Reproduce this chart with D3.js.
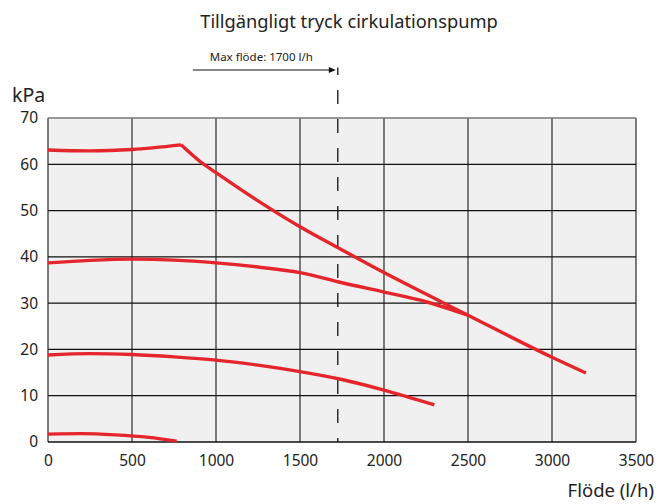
<!DOCTYPE html>
<html>
<head>
<meta charset="utf-8">
<script src="https://cdn.jsdelivr.net/npm/d3@7"></script>
<style>
  html, body { margin: 0; padding: 0; background: #fff; }
  svg { display: block; font-family: "Noto Sans", "Open Sans", sans-serif; }
</style>
</head>
<body>
<div id="chart"></div>
<script>
// ---- Data ----
const title = "Tillgängligt tryck cirkulationspump";
const yLabel = "kPa";
const xLabel = "Flöde (l/h)";
const maxFlowLabel = "Max flöde: 1700 l/h";
const maxFlowMarker = 1725;   // position of dashed line as drawn
const arrowStart = 862;

const xTicks = [0, 500, 1000, 1500, 2000, 2500, 3000, 3500];
const yTicks = [0, 10, 20, 30, 40, 50, 60, 70];

const curve1a = [[0, 63.1], [250, 62.9], [500, 63.2], [792, 64.2]];
const curve1b = [[792, 64.2], [905, 60.6], [1000, 58.2], [1250, 52.1], [1500, 46.5],
                 [1750, 41.5], [2000, 36.6], [2500, 27.4], [3000, 18.3], [3202, 14.9]];
const curve2 = [[0, 38.7], [250, 39.25], [500, 39.5], [750, 39.3], [1000, 38.7],
                [1250, 37.8], [1500, 36.6], [1750, 34.4], [2000, 32.4], [2250, 30.3], [2500, 27.4]];
const curve3 = [[0, 18.8], [250, 19.1], [500, 18.9], [750, 18.4], [1000, 17.7],
                [1250, 16.6], [1500, 15.2], [1750, 13.5], [2000, 11.2], [2300, 8.0]];
const curve4 = [[0, 1.7], [200, 1.8], [400, 1.55], [600, 1.0], [766, 0.2]];
const series = [curve1a, curve1b, curve2, curve3, curve4];

// ---- Layout ----
const W = 658, H = 504;
const m = { top: 118, right: 22, bottom: 62, left: 48 };
const iw = W - m.left - m.right, ih = H - m.top - m.bottom;

const svg = d3.select("#chart").append("svg").attr("width", W).attr("height", H);

const x = d3.scaleLinear().domain([0, 3500]).range([m.left, m.left + iw]);
const y = d3.scaleLinear().domain([0, 70]).range([m.top + ih, m.top]);

// background
svg.append("rect").attr("x", m.left).attr("y", m.top).attr("width", iw).attr("height", ih)
  .attr("fill", "#f0f0f0");

// vertical grid
svg.append("g").selectAll("line").data(xTicks).join("line")
  .attr("x1", d => x(d)).attr("x2", d => x(d))
  .attr("y1", m.top).attr("y2", m.top + ih)
  .attr("stroke", "#3a3a3a").attr("stroke-width", 1.3);

// horizontal grid
svg.append("g").selectAll("line").data(yTicks).join("line")
  .attr("x1", m.left).attr("x2", m.left + iw)
  .attr("y1", d => y(d)).attr("y2", d => y(d))
  .attr("stroke", d => d === 70 ? "#777" : "#111").attr("stroke-width", 1.3);

// axes labels via d3 axes (no domain/ticks lines)
const xAxis = svg.append("g").attr("transform", `translate(0,${m.top + ih})`)
  .call(d3.axisBottom(x).tickValues(xTicks).tickSize(0).tickPadding(13).tickFormat(d3.format("d")));
xAxis.select(".domain").remove();
xAxis.selectAll("text").attr("font-size", 15.5).attr("fill", "#222")
  .attr("font-family", "'Noto Sans', sans-serif");

const yAxis = svg.append("g").attr("transform", `translate(${m.left},0)`)
  .call(d3.axisLeft(y).tickValues(yTicks).tickSize(0).tickPadding(10).tickFormat(d3.format("d")));
yAxis.select(".domain").remove();
yAxis.selectAll("text").attr("font-size", 15.5).attr("fill", "#222")
  .attr("font-family", "'Noto Sans', sans-serif");

// dashed marker line
svg.append("line")
  .attr("x1", x(maxFlowMarker)).attr("x2", x(maxFlowMarker))
  .attr("y1", 61).attr("y2", m.top + ih)
  .attr("stroke", "#111").attr("stroke-width", 1.3)
  .attr("stroke-dasharray", "14 15");
// cover the part above y=68
svg.append("rect").attr("x", x(maxFlowMarker) - 3).attr("y", 55).attr("width", 6).attr("height", 12.5).attr("fill", "#fff");

// arrow
svg.append("line")
  .attr("x1", x(arrowStart)).attr("x2", x(maxFlowMarker) - 6)
  .attr("y1", 70).attr("y2", 70)
  .attr("stroke", "#111").attr("stroke-width", 1.2);
svg.append("path")
  .attr("d", `M${x(maxFlowMarker) - 2},70 L${x(maxFlowMarker) - 9},67 L${x(maxFlowMarker) - 9},73 Z`)
  .attr("fill", "#111");
svg.append("text")
  .attr("x", (x(arrowStart) + x(maxFlowMarker)) / 2 - 4).attr("y", 61)
  .attr("text-anchor", "middle").attr("font-size", 11.5).attr("fill", "#222")
  .attr("font-family", "'Noto Sans', sans-serif")
  .text(maxFlowLabel);

// curves
const line = d3.line().x(d => x(d[0])).y(d => y(d[1])).curve(d3.curveMonotoneX);
svg.append("g").selectAll("path").data(series).join("path")
  .attr("d", line).attr("fill", "none")
  .attr("stroke", "#e5252c").attr("stroke-width", 3.4)
  .attr("stroke-linejoin", "miter").attr("stroke-linecap", "butt");

// title
svg.append("text").attr("x", 349).attr("y", 28).attr("text-anchor", "middle")
  .attr("font-size", 18.3).attr("fill", "#222").text(title);

// y label
svg.append("text").attr("x", 12).attr("y", 102).attr("font-size", 19.5)
  .attr("fill", "#222").text(yLabel);

// x label
svg.append("text").attr("x", 654).attr("y", 497).attr("text-anchor", "end").attr("font-size", 18.5)
  .attr("fill", "#222").text(xLabel);
</script>
</body>
</html>
